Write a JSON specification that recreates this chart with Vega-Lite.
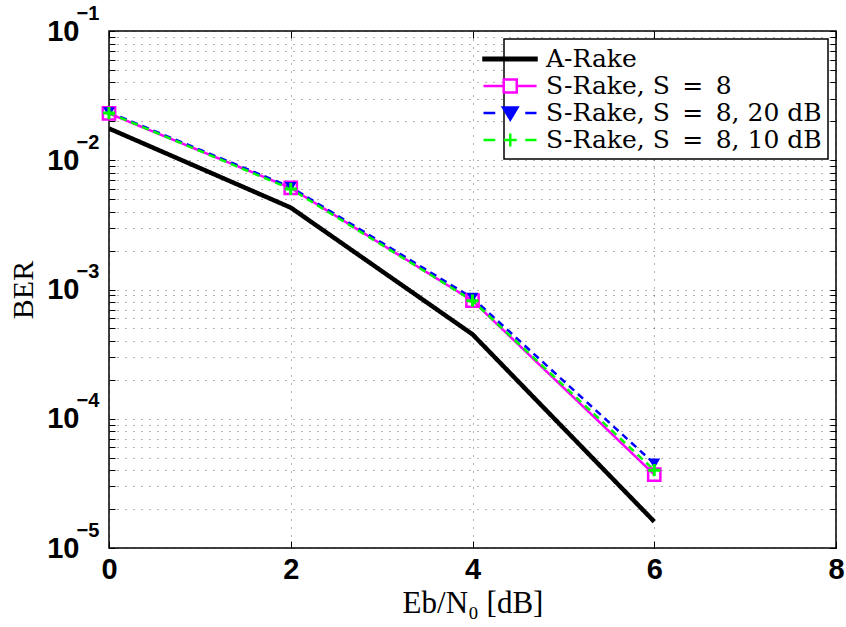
{
  "$schema": "https://vega.github.io/schema/vega-lite/v6.json",
  "width": 727,
  "height": 517,
  "autosize": "none",
  "padding": {"left": 109, "top": 31, "right": 10, "bottom": 79},
  "background": "white",
  "config": {
    "view": {"stroke": "black", "strokeWidth": 1.5},
    "font": "Liberation Sans",
    "legend": {"strokeWidth": 1.5}
  },
  "data": {
    "values": [
      {"key": "A", "series": "A-Rake", "ebn0": 0, "ber": 0.0176},
      {"key": "A", "series": "A-Rake", "ebn0": 2, "ber": 0.0043},
      {"key": "A", "series": "A-Rake", "ebn0": 4, "ber": 0.00045},
      {"key": "A", "series": "A-Rake", "ebn0": 6, "ber": 0.000016},
      {"key": "S8", "series": "S-Rake, S\u2002=\u20028", "ebn0": 0, "ber": 0.023},
      {"key": "S8", "series": "S-Rake, S\u2002=\u20028", "ebn0": 2, "ber": 0.0061},
      {"key": "S8", "series": "S-Rake, S\u2002=\u20028", "ebn0": 4, "ber": 0.00082},
      {"key": "S8", "series": "S-Rake, S\u2002=\u20028", "ebn0": 6, "ber": 0.000037},
      {"key": "S20", "series": "S-Rake, S\u2002=\u20028, 20 dB", "ebn0": 0, "ber": 0.0235},
      {"key": "S20", "series": "S-Rake, S\u2002=\u20028, 20 dB", "ebn0": 2, "ber": 0.0062},
      {"key": "S20", "series": "S-Rake, S\u2002=\u20028, 20 dB", "ebn0": 4, "ber": 0.00086},
      {"key": "S20", "series": "S-Rake, S\u2002=\u20028, 20 dB", "ebn0": 6, "ber": 0.000045},
      {"key": "S10", "series": "S-Rake, S\u2002=\u20028, 10 dB", "ebn0": 0, "ber": 0.0232},
      {"key": "S10", "series": "S-Rake, S\u2002=\u20028, 10 dB", "ebn0": 2, "ber": 0.006},
      {"key": "S10", "series": "S-Rake, S\u2002=\u20028, 10 dB", "ebn0": 4, "ber": 0.00082},
      {"key": "S10", "series": "S-Rake, S\u2002=\u20028, 10 dB", "ebn0": 6, "ber": 0.00004}
    ]
  },
  "layer": [
    {
      "mark": {"type": "line", "clip": true},
      "encoding": {
        "x": {
          "field": "ebn0", "type": "quantitative",
          "scale": {"domain": [0, 8], "nice": false, "zero": false},
          "axis": {
            "values": [0, 2, 4, 6, 8], "format": "d",
            "title": "Eb/N₀ [dB]", "titleFont": "Liberation Serif", "titleFontWeight": "normal", "titleFontSize": 31, "titleColor": "black", "titlePadding": 4,
            "labelFont": "Liberation Sans", "labelFontWeight": "bold", "labelFontSize": 29, "labelColor": "black", "labelPadding": 14, "labelFlush": false, "labelOverlap": false,
            "tickSize": -7, "tickColor": "black", "tickWidth": 1, "domain": false,
            "grid": true, "gridDash": [1, 7], "gridColor": "black", "gridOpacity": 0.6
          }
        },
        "y": {
          "field": "ber", "type": "quantitative",
          "scale": {"type": "log", "domain": [0.00001, 0.1], "nice": false},
          "axis": {
            "values": [0.00001, 0.00002, 0.00003, 0.00004, 0.00005, 0.00006, 0.00007, 0.00008, 0.00009, 0.0001, 0.0002, 0.0003, 0.0004, 0.0005, 0.0006, 0.0007, 0.0008, 0.0009, 0.001, 0.002, 0.003, 0.004, 0.005, 0.006, 0.007, 0.008, 0.009, 0.01, 0.02, 0.03, 0.04, 0.05, 0.06, 0.07, 0.08, 0.09, 0.1],
            "labelExpr": "abs(log(datum.value)/LN10 - round(log(datum.value)/LN10)) < 0.01 ? '10' : ''",
            "title": "BER", "titleFont": "Liberation Serif", "titleFontWeight": "normal", "titleFontSize": 30, "titleColor": "black", "titlePadding": 8,
            "labelFont": "Liberation Sans", "labelFontWeight": "bold", "labelFontSize": 29, "labelColor": "black", "labelPadding": 36, "labelFlush": false, "labelOverlap": false,
            "tickSize": -6, "tickColor": "black", "tickWidth": 1, "domain": false,
            "grid": true, "gridDash": [1, 7], "gridColor": "black", "gridOpacity": 0.6
          }
        },
        "color": {
          "field": "key", "type": "nominal", "legend": null,
          "scale": {"domain": ["A", "S8", "S20", "S10"], "range": ["#000000", "#ff00ff", "#0000ff", "#00ff00"]}
        },
        "strokeDash": {"condition": {"test": "datum.key === 'S20' || datum.key === 'S10'", "value": [7, 5]}, "value": [1, 0]},
        "strokeWidth": {"condition": {"test": "datum.key === 'A'", "value": 4.5}, "value": 2.5}
      }
    },
    {
      "transform": [{"filter": "datum.key === 'S8'"}],
      "mark": {"type": "point", "shape": "square", "filled": false, "color": "#ff00ff", "opacity": 1, "strokeWidth": 2.5, "size": 150},
      "encoding": {
        "x": {
          "field": "ebn0", "type": "quantitative",
          "axis": {"orient": "top", "values": [0, 2, 4, 6, 8], "labels": false, "title": null, "tickSize": -7, "tickColor": "black", "domain": false, "grid": false}
        },
        "y": {
          "field": "ber", "type": "quantitative",
          "axis": {
            "orient": "right",
            "values": [0.00001, 0.00002, 0.00003, 0.00004, 0.00005, 0.00006, 0.00007, 0.00008, 0.00009, 0.0001, 0.0002, 0.0003, 0.0004, 0.0005, 0.0006, 0.0007, 0.0008, 0.0009, 0.001, 0.002, 0.003, 0.004, 0.005, 0.006, 0.007, 0.008, 0.009, 0.01, 0.02, 0.03, 0.04, 0.05, 0.06, 0.07, 0.08, 0.09, 0.1],
            "labels": false, "title": null, "tickSize": -6, "tickColor": "black", "domain": false, "grid": false
          }
        }
      }
    },
    {
      "transform": [{"filter": "datum.key === 'S20'"}],
      "mark": {"type": "point", "shape": "triangle-down", "filled": true, "color": "#0000ff", "opacity": 1, "size": 140},
      "encoding": {
        "x": {"field": "ebn0", "type": "quantitative", "axis": null},
        "y": {
          "field": "ber", "type": "quantitative",
          "axis": {
            "orient": "left",
            "values": [0.00001, 0.0001, 0.001, 0.01, 0.1],
            "labelExpr": "'−' + (-round(log(datum.value)/LN10))",
            "labelFont": "Liberation Sans", "labelFontWeight": "bold", "labelFontSize": 20, "labelColor": "black",
            "labelAlign": "left", "labelPadding": 33, "labelOffset": -18, "labelFlush": false, "labelOverlap": false,
            "title": null, "ticks": false, "tickSize": -6, "domain": false, "grid": false
          }
        }
      }
    },
    {
      "transform": [{"filter": "datum.key === 'S10'"}],
      "mark": {"type": "point", "shape": "M-1,0H1M0,-1V1", "filled": false, "color": "#00ff00", "opacity": 1, "strokeWidth": 3, "size": 150},
      "encoding": {
        "x": {"field": "ebn0", "type": "quantitative", "axis": null},
        "y": {"field": "ber", "type": "quantitative", "axis": null}
      }
    },
    {
      "mark": {"type": "point", "filled": false, "opacity": 0, "strokeWidth": 2.5, "size": 625},
      "encoding": {
        "x": {"field": "ebn0", "type": "quantitative", "axis": null},
        "y": {"field": "ber", "type": "quantitative", "axis": null},
        "shape": {
          "field": "series", "type": "nominal",
          "scale": {
            "domain": ["A-Rake", "S-Rake, S\u2002=\u20028", "S-Rake, S\u2002=\u20028, 20 dB", "S-Rake, S\u2002=\u20028, 10 dB"],
            "range": [
              "M-3.24,-0.1H1V0.1H-3.24Z",
              "M-3.24,0H-1.62M-0.58,0H1M-1.62,-0.52H-0.58V0.52H-1.62Z",
              "M-3.24,0H-2.3M0.1,0H1M-1.68,-0.44H-0.52L-1.1,0.52ZM-1.42,-0.27H-0.78L-1.1,0.3ZM-1.22,-0.12H-0.98L-1.1,0.1Z",
              "M-3.24,0H-2.3M0.1,0H1M-1.62,0H-0.58M-1.1,-0.52V0.52"
            ]
          },
          "legend": {
            "title": null, "orient": "top-right", "offset": 8,
            "symbolSize": 625, "symbolStrokeWidth": 2.5, "symbolOpacity": 1, "symbolFillColor": "white",
            "labelFont": "DejaVu Serif", "labelFontSize": 25, "labelColor": "black", "labelOffset": 8, "labelLimit": 500,
            "strokeColor": "black", "fillColor": "white", "padding": 6, "rowPadding": 0
          }
        },
        "stroke": {
          "field": "series", "type": "nominal",
          "scale": {"domain": ["A-Rake", "S-Rake, S\u2002=\u20028", "S-Rake, S\u2002=\u20028, 20 dB", "S-Rake, S\u2002=\u20028, 10 dB"], "range": ["#000000", "#ff00ff", "#0000ff", "#00ff00"]}
        },
        "fill": {
          "field": "series", "type": "nominal",
          "scale": {"domain": ["A-Rake", "S-Rake, S\u2002=\u20028", "S-Rake, S\u2002=\u20028, 20 dB", "S-Rake, S\u2002=\u20028, 10 dB"], "range": ["#000000", "#ffffff", "#0000ff", "#00ff00"]}
        }
      }
    }
  ],
  "resolve": {"axis": {"x": "independent", "y": "independent"}, "scale": {"shape": "independent", "stroke": "independent", "fill": "independent"}}
}
